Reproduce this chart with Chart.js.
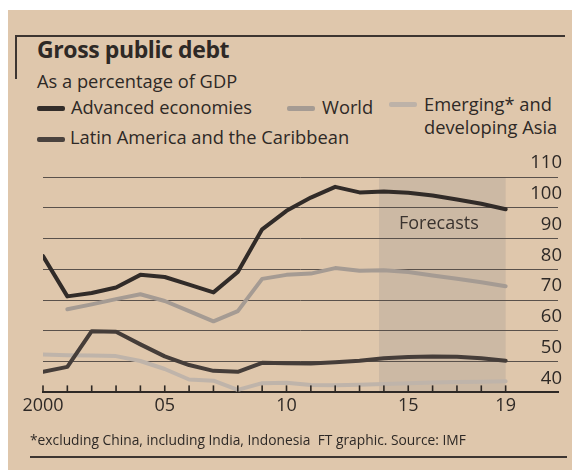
<!DOCTYPE html>
<html>
<head>
<meta charset="utf-8">
<script src="https://cdn.jsdelivr.net/npm/chart.js@4.4.1/dist/chart.umd.min.js"></script>
<style>
  html, body { margin: 0; padding: 0; background: #fff; }
  body { width: 579px; height: 470px; position: relative; overflow: hidden;
         font-family: "Open Sans", sans-serif; color: #2e2926; }
  #paper { position: absolute; left: 8px; top: 10px; width: 564px; height: 460px; background: #dfc7ac; }
  .t { position: absolute; white-space: nowrap; line-height: 1; }
  .rule { position: absolute; background: #3d3531; }
  .sw { position: absolute; height: 5px; border-radius: 2px; }
  #title { left: 37px; top: 38px; font-size: 23px; font-weight: 700; letter-spacing: -0.4px; }
  #sub { left: 37px; top: 72px; font-size: 18.3px; }
  .leg { font-size: 18.3px; }
  #chart { position: absolute; left: 0; top: 150px; }
  #fc { left: 399px; top: 213px; font-size: 18px; color: #3a332f; }
  #note { left: 30px; top: 433px; font-size: 13.8px; }
</style>
</head>
<body>
<div id="paper"></div>
<div class="rule" style="left:15px;top:35px;width:550px;height:1.5px"></div>
<div class="rule" style="left:15px;top:35px;width:1.5px;height:44px"></div>
<div class="rule" style="left:30px;top:456px;width:537px;height:1.5px"></div>

<div class="t" id="title">Gross public debt</div>
<div class="t" id="sub">As a percentage of GDP</div>

<div class="sw" style="left:37px;top:106px;width:28px;background:#332d2a"></div>
<div class="t leg" style="left:71px;top:98px">Advanced economies</div>
<div class="sw" style="left:287px;top:106px;width:28px;background:#a59b93"></div>
<div class="t leg" style="left:322px;top:98px">World</div>
<div class="sw" style="left:389px;top:102px;width:28px;background:#bdb2a8"></div>
<div class="t leg" style="left:424px;top:95px">Emerging* and</div>
<div class="t leg" style="left:424px;top:118px">developing Asia</div>
<div class="sw" style="left:37px;top:137px;width:28px;background:#4a423e"></div>
<div class="t leg" style="left:70px;top:128px">Latin America and the Caribbean</div>

<canvas id="chart" width="579" height="300"></canvas>
<div class="t" id="fc">Forecasts</div>
<div class="t" id="note">*excluding China, including India, Indonesia&nbsp; FT graphic. Source: IMF</div>

<script>
// gross public debt, % of GDP
const years = [2000, 2001, 2002, 2003, 2004, 2005, 2006, 2007, 2008, 2009,
               2010, 2011, 2012, 2013, 2014, 2015, 2016, 2017, 2018, 2019];
const advanced = [84.3, 71.2, 72.3, 74.1, 78.2, 77.5, 75.0, 72.5, 79.1, 93.0,
                  99.0, 103.3, 106.8, 105.0, 105.3, 104.9, 104.0, 102.7, 101.3, 99.5];
const world = [null, 67.0, 68.6, 70.3, 71.9, 69.7, 66.4, 63.1, 66.4, 76.9,
               78.2, 78.6, 80.4, 79.5, 79.7, 79.1, 78.0, 76.9, 75.8, 74.5];
const latam = [46.7, 48.3, 59.9, 59.7, 55.6, 51.7, 48.9, 47.0, 46.7, 49.6,
               49.5, 49.4, 49.8, 50.3, 51.1, 51.5, 51.7, 51.6, 51.1, 50.3];
const emAsia = [52.3, 52.1, 52.0, 51.8, 50.2, 47.6, 44.2, 43.8, 40.8, 43.0,
                43.1, 42.4, 42.3, 42.5, 42.7, 43.0, 43.2, 43.4, 43.5, 43.6];

const tickYears = [2000, 2005, 2010, 2015, 2019];
const tickLabels = ['2000', '05', '10', '15', '19'];
const forecastFrom = 2013.8;
const forecastTo = 2019;

const ink = '#2e2926';
const pts = arr => years.map((yr, i) => ({ x: yr, y: arr[i] }));

// grey box behind the forecast years
const forecastBox = {
    id: 'forecastBox',
    beforeDraw(chart) {
        const { ctx, scales: { x, y } } = chart;
        const x0 = x.getPixelForValue(forecastFrom);
        const x1 = x.getPixelForValue(forecastTo);
        const y0 = y.getPixelForValue(y.max);
        const y1 = y.getPixelForValue(y.min);
        ctx.save();
        ctx.fillStyle = '#ccb9a4';
        ctx.fillRect(x0, y0, x1 - x0, y1 - y0);
        ctx.restore();
    }
};

// short year ticks rising from the x axis (thin filled bars, drawn last)
const yearTicks = {
    id: 'yearTicks',
    afterDraw(chart) {
        const { ctx, scales: { x, y } } = chart;
        const base = y.getPixelForValue(y.min);
        ctx.save();
        ctx.fillStyle = '#2e2824';
        years.forEach(yr => {
            const px = x.getPixelForValue(yr);
            ctx.fillRect(px - 0.8, base - 7, 1.6, 7);
        });
        ctx.restore();
    }
};

const line = (data, color) => ({
    data: pts(data),
    borderColor: color,
    borderWidth: 4,
    pointRadius: 0,
    tension: 0,
    borderCapStyle: 'round',
    borderJoinStyle: 'round',
    fill: false
});

new Chart(document.getElementById('chart'), {
    type: 'line',
    data: {
        datasets: [
            line(advanced, '#312b28'),
            line(latam, '#453d39'),
            line(world, '#a59b93'),
            line(emAsia, '#bfb4aa')
        ]
    },
    options: {
        responsive: false,
        animation: false,
        layout: { padding: { left: 43, right: 13, top: 27, bottom: 30 } },
        plugins: { legend: { display: false }, tooltip: { enabled: false } },
        scales: {
            x: {
                type: 'linear',
                min: 2000,
                max: 2021.15,
                afterBuildTicks: scale => {
                    scale.ticks = scale.ticks.filter(t => t.value <= forecastTo);
                },
                ticks: {
                    stepSize: 1,
                    autoSkip: false,
                    maxTicksLimit: 40,
                    maxRotation: 0,
                    padding: 3,
                    color: ink,
                    font: { family: 'Open Sans', size: 18 },
                    callback: v => {
                        const i = tickYears.indexOf(v);
                        return i < 0 ? '' : tickLabels[i];
                    }
                },
                grid: { display: false, drawTicks: false },
                border: { display: true, color: ink, width: 2 }
            },
            y: {
                position: 'right',
                min: 40,
                max: 110,
                ticks: {
                    stepSize: 10,
                    mirror: true,
                    padding: 4,
                    labelOffset: -14,
                    color: ink,
                    font: { family: 'Open Sans', size: 18.5 }
                },
                grid: { color: '#5a514b', lineWidth: 1, drawTicks: false },
                border: { display: false }
            }
        }
    },
    plugins: [forecastBox, yearTicks]
});
</script>
</body>
</html>
